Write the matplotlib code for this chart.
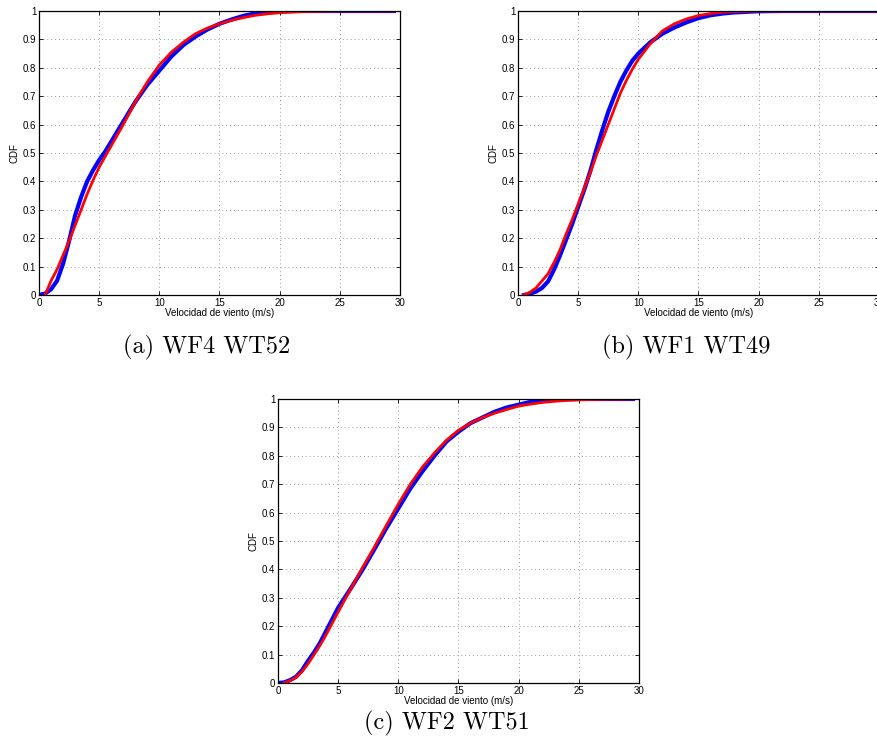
import numpy as np
import matplotlib.pyplot as plt

# (a) WF4 WT52
xa_blue = [0, 0.5, 1, 1.5, 2, 2.5, 3, 3.5, 4, 4.5, 5, 5.5, 6, 7, 8, 9, 10, 11, 12, 13, 14, 15, 16, 17, 18, 19, 20, 25, 29.5]
ya_blue = [0, 0.005, 0.02, 0.05, 0.11, 0.19, 0.28, 0.345, 0.4, 0.44, 0.475, 0.505, 0.54, 0.61, 0.68, 0.74, 0.79, 0.84, 0.88, 0.91, 0.935, 0.955, 0.97, 0.983, 0.992, 0.998, 1.0, 1.0, 1.0]
xa_red = [0.5, 1, 1.5, 2, 2.5, 3, 3.5, 4, 4.5, 5, 6, 7, 8, 9, 10, 11, 12, 13, 14, 15, 16, 17, 18, 19, 20, 22, 25, 29.5]
ya_red = [0, 0.05, 0.09, 0.14, 0.19, 0.245, 0.3, 0.355, 0.405, 0.45, 0.525, 0.6, 0.68, 0.75, 0.81, 0.855, 0.89, 0.92, 0.94, 0.955, 0.967, 0.977, 0.985, 0.99, 0.994, 0.998, 1.0, 1.0]

# (b) WF1 WT49
xb_blue = [0.5, 1, 1.5, 2, 2.5, 3, 3.5, 4, 4.5, 5, 5.5, 6, 6.5, 7, 7.5, 8, 8.5, 9, 9.5, 10, 11, 12, 13, 14, 15, 16, 17, 18, 20, 22, 30]
yb_blue = [0, 0.005, 0.012, 0.025, 0.048, 0.09, 0.14, 0.195, 0.25, 0.31, 0.37, 0.435, 0.51, 0.58, 0.645, 0.7, 0.75, 0.79, 0.825, 0.85, 0.89, 0.92, 0.942, 0.96, 0.975, 0.985, 0.991, 0.995, 0.999, 1.0, 1.0]
xb_red = [0.5, 1, 1.5, 2, 2.5, 3, 3.5, 4, 4.5, 5, 5.5, 6, 6.5, 7, 7.5, 8, 8.5, 9, 9.5, 10, 11, 12, 13, 14, 15, 16, 17, 18, 20, 22, 30]
yb_red = [0, 0.01, 0.025, 0.05, 0.075, 0.115, 0.16, 0.215, 0.265, 0.32, 0.375, 0.43, 0.49, 0.545, 0.6, 0.655, 0.71, 0.755, 0.795, 0.83, 0.885, 0.93, 0.955, 0.972, 0.984, 0.991, 0.996, 0.998, 1.0, 1.0, 1.0]

# (c) WF2 WT51
xc_blue = [0, 0.5, 1, 1.5, 2, 2.5, 3, 3.5, 4, 4.5, 5, 6, 7, 8, 9, 10, 11, 12, 13, 14, 15, 16, 17, 18, 19, 20, 21, 22, 23, 25, 29.5]
yc_blue = [0, 0.002, 0.01, 0.022, 0.045, 0.078, 0.108, 0.142, 0.183, 0.224, 0.265, 0.33, 0.397, 0.47, 0.545, 0.615, 0.685, 0.745, 0.8, 0.85, 0.885, 0.915, 0.935, 0.955, 0.97, 0.98, 0.99, 0.995, 0.998, 1.0, 1.0]
xc_red = [0.5, 1, 1.5, 2, 2.5, 3, 3.5, 4, 4.5, 5, 6, 7, 8, 9, 10, 11, 12, 13, 14, 15, 16, 17, 18, 19, 20, 21, 22, 23, 24, 25, 27, 29.5]
yc_red = [0, 0.008, 0.02, 0.04, 0.068, 0.1, 0.133, 0.17, 0.21, 0.25, 0.328, 0.405, 0.478, 0.555, 0.63, 0.7, 0.76, 0.81, 0.855, 0.89, 0.915, 0.935, 0.95, 0.963, 0.975, 0.982, 0.988, 0.992, 0.995, 0.997, 0.999, 1.0]

captions = ["(a) WF4 WT52", "(b) WF1 WT49", "(c) WF2 WT51"]
xticks = [0, 5, 10, 15, 20, 25, 30]
yticks = [0, 0.1, 0.2, 0.3, 0.4, 0.5, 0.6, 0.7, 0.8, 0.9, 1]
ytick_labels = ["0", "0.1", "0.2", "0.3", "0.4", "0.5", "0.6", "0.7", "0.8", "0.9", "1"]

plt.rcParams['font.family'] = ['Liberation Sans', 'DejaVu Sans']

W, H = 878, 749
fig = plt.figure(figsize=(W / 100, H / 100), dpi=100)

# axes boxes in pixels: left, top, right, bottom
boxes = [(39, 11, 400, 295), (518, 11, 879, 295), (278, 399, 639, 683)]
data = [(xa_blue, ya_blue, xa_red, ya_red),
        (xb_blue, yb_blue, xb_red, yb_red),
        (xc_blue, yc_blue, xc_red, yc_red)]
cap_pos = [(207, 347), (686, 347), (447, 723)]

for box, (xb, yb, xr, yr), cap, cp in zip(boxes, data, captions, cap_pos):
    l, t, r, b = box
    ax = fig.add_axes([l / W, 1 - b / H, (r - l) / W, (b - t) / H])
    ax.plot(xb, yb, color='#0000ff', lw=3.0)
    ax.plot(xr, yr, color='#ff0000', lw=2.0)
    ax.set_xlim(0, 30)
    ax.set_ylim(0, 1)
    ax.set_xticks(xticks)
    ax.set_yticks(yticks)
    ax.set_yticklabels(ytick_labels)
    ax.grid(True, linestyle=(0, (1, 3)), color='0.6', lw=0.7)
    ax.tick_params(direction='in', top=True, right=True, labelsize=7, length=3, width=0.6, pad=2)
    for s in ax.spines.values():
        s.set_linewidth(0.9)
    ax.set_xlabel("Velocidad de viento (m/s)", fontsize=7, labelpad=0)
    ax.set_ylabel("CDF", fontsize=7, labelpad=2)
    fig.text(cp[0] / W, 1 - cp[1] / H, cap, fontsize=17.5, family='cmr10', ha='center', va='center')

fig.savefig("out.png", dpi=100)
